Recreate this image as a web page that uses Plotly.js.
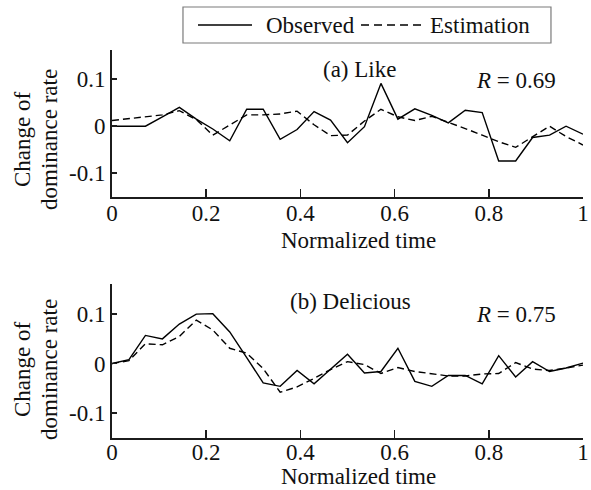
<!DOCTYPE html>
<html>
<head>
<meta charset="utf-8">
<script src="https://cdn.plot.ly/plotly-3.0.1.min.js"></script>
<style>html,body{margin:0;padding:0;background:#fff;}#chart{width:591px;height:490px;}</style>
</head>
<body>
<div id="chart"></div>
<script>
// Normalized time grid (29 samples)
const timeVals = [0, 0.036, 0.071, 0.107, 0.143, 0.179, 0.214, 0.25, 0.286, 0.321, 0.357, 0.393, 0.429, 0.464, 0.5,
                  0.536, 0.571, 0.607, 0.643, 0.679, 0.714, 0.75, 0.786, 0.821, 0.857, 0.893, 0.929, 0.964, 1];

// (a) Like
const likeObserved = [0.0, 0.0, 0.0, 0.02, 0.040, 0.015, -0.006, -0.031, 0.036, 0.036, -0.028, -0.007, 0.031, 0.013, -0.035,
                      -0.001, 0.091, 0.015, 0.037, 0.023, 0.007, 0.034, 0.029, -0.074, -0.074, -0.024, -0.019, 0.0, -0.017];
const likeEstimation = [0.012, 0.016, 0.02, 0.024, 0.033, 0.014, -0.019, 0.003, 0.024, 0.024, 0.026, 0.032, 0.003, -0.02, -0.019,
                        0.011, 0.036, 0.02, 0.012, 0.021, 0.009, -0.005, -0.019, -0.033, -0.045, -0.022, 0.0, -0.022, -0.04];

// (b) Delicious
const deliciousObserved = [0.0, 0.008, 0.057, 0.05, 0.08, 0.1, 0.101, 0.064, 0.012, -0.039, -0.046, -0.014, -0.041, -0.011, 0.019,
                           -0.019, -0.016, 0.031, -0.036, -0.046, -0.024, -0.024, -0.041, 0.016, -0.027, 0.004, -0.016, -0.009, 0.001];
const deliciousEstimation = [0.0, 0.006, 0.04, 0.038, 0.055, 0.088, 0.068, 0.031, 0.021, -0.010, -0.058, -0.047, -0.030, -0.012, 0.004,
                             -0.002, -0.02, -0.008, -0.016, -0.021, -0.025, -0.025, -0.021, -0.02, 0.002, -0.011, -0.014, -0.009, -0.003];

const xTickVals = [0, 0.2, 0.4, 0.6, 0.8, 1];
const xTickText = ['0', '0.2', '0.4', '0.6', '0.8', '1'];
const yTickVals = [-0.1, 0, 0.1];
const yTickText = ['-0.1', '0', '0.1'];

const seriesNames = ['Observed', 'Estimation'];
const panelLabels = ['(a) Like', '(b) Delicious'];
const panelR = ['0.69', '0.75'];
const xTitle = 'Normalized time';
const yTitleLines = ['Change of', 'dominance rate'];

const FONT = '"Liberation Serif", "Times New Roman", serif';
const FS = 23;
const INK = '#111';
const AX = '#1c1c1c';
const DASH = '7px,4px';

const traces = [
  {x: timeVals, y: likeObserved, xaxis: 'x', yaxis: 'y', mode: 'lines', name: seriesNames[0],
   line: {color: '#000', width: 1.4}},
  {x: timeVals, y: likeEstimation, xaxis: 'x', yaxis: 'y', mode: 'lines', name: seriesNames[1],
   line: {color: '#000', width: 1.4, dash: DASH}},
  {x: timeVals, y: deliciousObserved, xaxis: 'x2', yaxis: 'y2', mode: 'lines', name: seriesNames[0],
   line: {color: '#000', width: 1.4}},
  {x: timeVals, y: deliciousEstimation, xaxis: 'x2', yaxis: 'y2', mode: 'lines', name: seriesNames[1],
   line: {color: '#000', width: 1.4, dash: DASH}}
];

function xAxis(anchor, standoff) {
  return {
    anchor: anchor, domain: [0, 1], range: [0, 1], fixedrange: true,
    showgrid: false, zeroline: false, showline: true, linecolor: AX, linewidth: 2,
    ticks: 'inside', ticklen: 8, tickwidth: 1.5, tickcolor: AX,
    tickmode: 'array', tickvals: xTickVals, ticktext: xTickText,
    tickfont: {family: FONT, size: FS, color: INK},
    ticklabelstandoff: standoff,
    automargin: false
  };
}
function yAxis(anchor, domain, range) {
  return {
    anchor: anchor, domain: domain, range: range, fixedrange: true,
    showgrid: false, zeroline: false, showline: true, linecolor: AX, linewidth: 2,
    ticks: 'inside', ticklen: 5, tickwidth: 1.5, tickcolor: AX,
    tickmode: 'array', tickvals: yTickVals, ticktext: yTickText,
    tickfont: {family: FONT, size: FS, color: INK},
    automargin: false
  };
}

const fnt = () => ({family: FONT, size: FS, color: INK});

const annotations = [
  {xref: 'x', yref: 'y', x: 0.5255, y: 0.1196, text: panelLabels[0], showarrow: false, font: fnt(), xanchor: 'center', yanchor: 'middle'},
  {xref: 'x', yref: 'y', x: 0.857, y: 0.098, text: '<i>R</i> = ' + panelR[0], showarrow: false, font: fnt(), xanchor: 'center', yanchor: 'middle'},
  {xref: 'x2', yref: 'y2', x: 0.5064, y: 0.125, text: panelLabels[1], showarrow: false, font: fnt(), xanchor: 'center', yanchor: 'middle'},
  {xref: 'x2', yref: 'y2', x: 0.857, y: 0.0986, text: '<i>R</i> = ' + panelR[1], showarrow: false, font: fnt(), xanchor: 'center', yanchor: 'middle'},
  // x-axis titles
  {xref: 'paper', yref: 'paper', x: 0.5244, y: 0.5103, text: xTitle, showarrow: false, font: fnt(), xanchor: 'center', yanchor: 'middle'},
  {xref: 'paper', yref: 'paper', x: 0.5244, y: -0.1005, text: xTitle, showarrow: false, font: fnt(), xanchor: 'center', yanchor: 'middle'},
  // y-axis titles (two lines, rotated)
  {xref: 'paper', yref: 'paper', x: -0.1911, y: 0.7706, text: yTitleLines[0], textangle: -90, showarrow: false, font: fnt(), xanchor: 'center', yanchor: 'middle'},
  {xref: 'paper', yref: 'paper', x: -0.1338, y: 0.7706, text: yTitleLines[1], textangle: -90, showarrow: false, font: fnt(), xanchor: 'center', yanchor: 'middle'},
  {xref: 'paper', yref: 'paper', x: -0.1911, y: 0.1778, text: yTitleLines[0], textangle: -90, showarrow: false, font: fnt(), xanchor: 'center', yanchor: 'middle'},
  {xref: 'paper', yref: 'paper', x: -0.1338, y: 0.1778, text: yTitleLines[1], textangle: -90, showarrow: false, font: fnt(), xanchor: 'center', yanchor: 'middle'},
  // legend labels
  {xref: 'paper', yref: 'paper', x: 0.3227, y: 1.0619, text: seriesNames[0], showarrow: false, font: fnt(), xanchor: 'left', yanchor: 'middle'},
  {xref: 'paper', yref: 'paper', x: 0.6709, y: 1.0619, text: seriesNames[1], showarrow: false, font: fnt(), xanchor: 'left', yanchor: 'middle'}
];

const shapes = [
  {type: 'rect', xref: 'paper', yref: 'paper', x0: 0.1507, x1: 0.932, y0: 1.018, y1: 1.1108,
   line: {color: '#7a7a7a', width: 1.2}, fillcolor: 'rgba(0,0,0,0)'},
  {type: 'line', xref: 'paper', yref: 'paper', x0: 0.1826, x1: 0.2972, y0: 1.0645, y1: 1.0645,
   line: {color: '#000', width: 1.4}},
  {type: 'line', xref: 'paper', yref: 'paper', x0: 0.5287, x1: 0.6645, y0: 1.0645, y1: 1.0645,
   line: {color: '#000', width: 1.4, dash: '8px,5px'}}
];

const layout = {
  width: 591, height: 490,
  margin: {l: 112, r: 8, t: 50, b: 52, pad: 0},
  paper_bgcolor: '#fff', plot_bgcolor: '#fff',
  showlegend: false,
  font: {family: FONT, size: FS, color: INK},
  xaxis: xAxis('y', -6),
  yaxis: yAxis('x', [0.6211, 1], [-0.1506, 0.162]),
  xaxis2: xAxis('y2', -8),
  yaxis2: yAxis('x2', [0, 0.3969], [-0.1505, 0.161]),
  annotations: annotations,
  shapes: shapes
};

Plotly.newPlot('chart', traces, layout, {staticPlot: true, displayModeBar: false});
</script>
</body>
</html>
